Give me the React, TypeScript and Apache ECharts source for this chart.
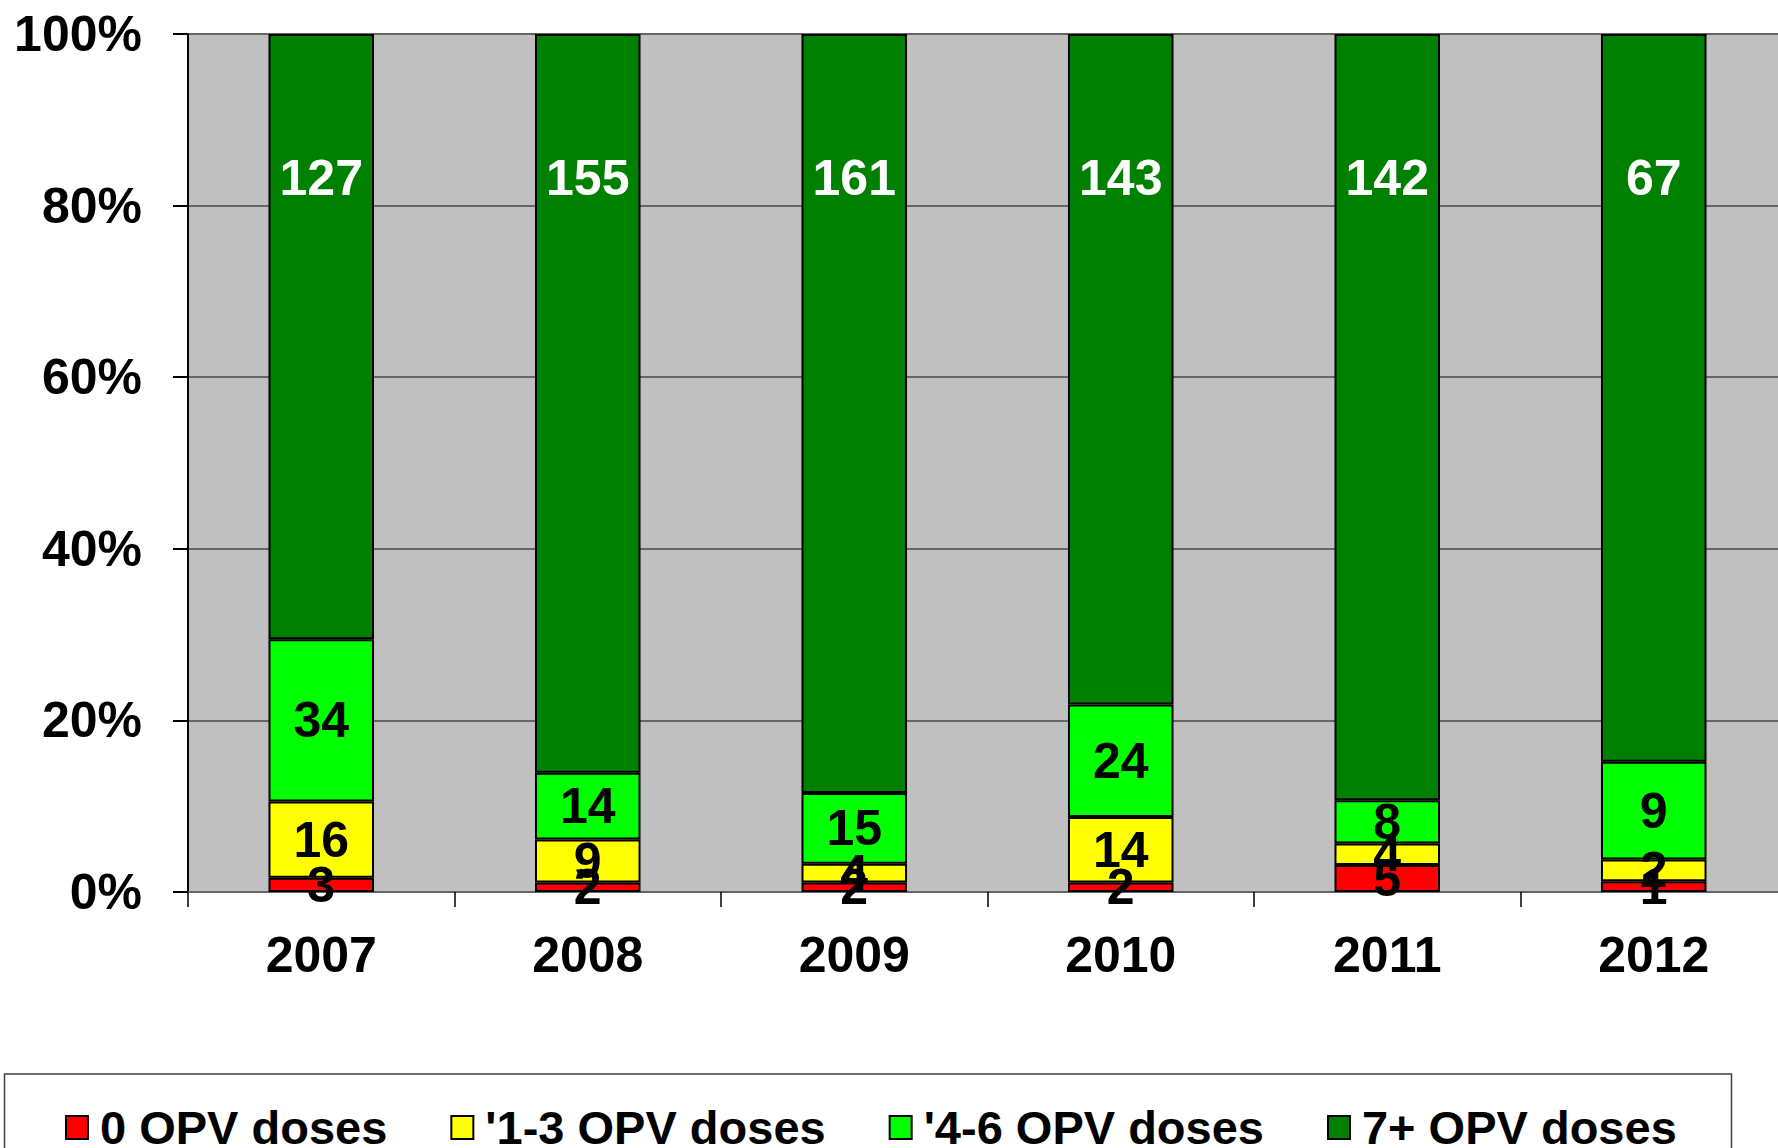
import React, { useEffect, useRef } from "react";
import * as echarts from "echarts";

const years = ["2007", "2008", "2009", "2010", "2011", "2012"];
const seriesNames = ["0 OPV doses", "'1-3 OPV doses", "'4-6 OPV doses", "7+ OPV doses"];
const dose0 = [3, 2, 2, 2, 5, 1];
const dose13 = [16, 9, 4, 14, 4, 2];
const dose46 = [34, 14, 15, 24, 8, 9];
const dose7 = [127, 155, 161, 143, 142, 67];
const yTicks = [0, 20, 40, 60, 80, 100];
const colors = ["#FF0000", "#FFFF00", "#00FF00", "#008000"];

const FONT = "Liberation Sans";

export default function App() {
  const ref = useRef<HTMLDivElement>(null);
  useEffect(() => {
    if (!ref.current) return;
    const chart = echarts.init(ref.current, null, { renderer: "svg" });
    const counts = [dose0, dose13, dose46, dose7];
    const totals = years.map((_, i) => counts.reduce((s, c) => s + c[i], 0));
    const series = counts.map((arr, si) => ({
      name: seriesNames[si],
      type: "bar",
      stack: "total",
      barWidth: "39.6%",
      data: arr.map((v, i) => (v / totals[i]) * 100),
      itemStyle: { color: colors[si], borderColor: "#000", borderWidth: 2 },
      label: {
        show: true,
        position: si === 3 ? "insideTop" : "inside",
        distance: si === 3 ? 119 : 5,
        formatter: (p: any) => String(arr[p.dataIndex]),
        color: si === 3 ? "#FFFFFF" : "#000000",
        fontSize: 50,
        lineHeight: 50,
        fontWeight: "bold",
        fontFamily: FONT,
      },
    }));
    chart.setOption({
      animation: false,
      backgroundColor: "#FFFFFF",
      grid: {
        left: 188,
        top: 34,
        right: 0,
        bottom: 256,
        show: true,
        backgroundColor: "#C0C0C0",
        borderWidth: 0,
      },
      graphic: [
        {
          type: "rect",
          shape: { x: 4.5, y: 1074, width: 1727, height: 120 },
          style: { fill: "none", stroke: "#404040", lineWidth: 1.5 },
          z: 0,
        },
      ],
      legend: {
        data: seriesNames,
        left: 65,
        top: 1104,
        padding: 0,
        itemWidth: 22,
        itemHeight: 23,
        itemGap: 63,
        icon: "rect",
        textStyle: {
          fontSize: 47,
          lineHeight: 44,
          fontWeight: "bold",
          fontFamily: FONT,
          color: "#000",
          padding: [0, 0, 0, 7],
        },
      },
      xAxis: {
        type: "category",
        data: years,
        axisLine: { show: true, lineStyle: { color: "#666", width: 2 } },
        axisTick: { show: true, interval: 0, length: 15, lineStyle: { color: "#000", width: 1.5 } },
        axisLabel: {
          margin: 38,
          fontSize: 50,
          fontWeight: "bold",
          fontFamily: FONT,
          color: "#000",
        },
      },
      yAxis: {
        type: "value",
        min: yTicks[0],
        max: yTicks[yTicks.length - 1],
        interval: 20,
        axisLine: { show: true, lineStyle: { color: "#000", width: 2 } },
        axisTick: { show: true, length: 15, lineStyle: { color: "#000", width: 2 } },
        splitLine: { show: true, lineStyle: { color: "#666", width: 2 } },
        axisLabel: {
          margin: 46,
          formatter: "{value}%",
          fontSize: 50,
          fontWeight: "bold",
          fontFamily: FONT,
          color: "#000",
        },
      },
      series,
    });
    return () => chart.dispose();
  }, []);
  return (
    <div style={{ position: "absolute", left: 0, top: 0, width: 1778, height: 1148, overflow: "hidden" }}>
      <div ref={ref} style={{ width: 1787, height: 1148 }} />
    </div>
  );
}
